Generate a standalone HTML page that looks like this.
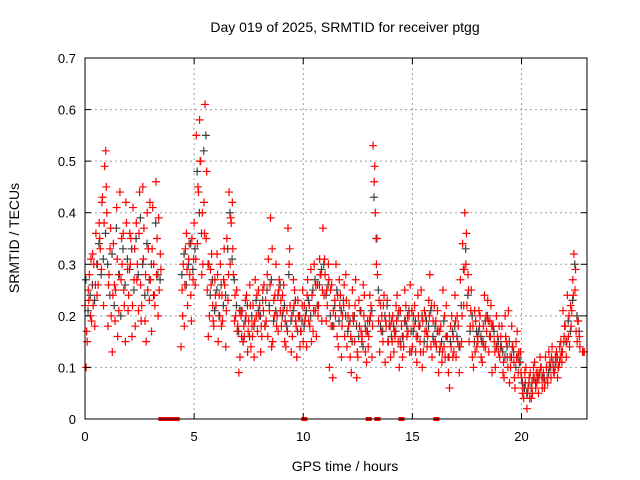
<!DOCTYPE html>
<html><head><meta charset="utf-8"><style>
body{margin:0;background:#fff}
svg{display:block;font-family:"Liberation Sans",sans-serif}
</style></head><body>
<svg id="chart" width="640" height="480" viewBox="0 0 640 480">
<rect width="640" height="480" fill="#fff"/>
<g id="grid"></g>
<g id="marks"></g>
<g id="axes"></g>
<text x="345" y="32" font-size="14" text-anchor="middle">Day 019 of 2025, SRMTID for receiver ptgg</text>
<text x="345" y="471" font-size="14" text-anchor="middle">GPS time / hours</text>
<text x="19" y="238" font-size="14" text-anchor="middle" transform="rotate(-90 19 238)">SRMTID / TECUs</text>
</svg>
<script>
const xTicks=[0,5,10,15,20];
const yTicks=[0,0.1,0.2,0.3,0.4,0.5,0.6,0.7];
const yTickLabels=["0","0.1","0.2","0.3","0.4","0.5","0.6","0.7"];
const redT=[0,.1,.2,.3,.4,.5,.6,.7,.8,.9,1,1.1,1.2,1.3,1.4,1.5,1.6,1.7,1.8,1.9,2,2.1,2.2,2.3,2.4,2.5,2.6,2.7,2.8,2.9,3,3.1,3.2,3.3,3.4,
4.4,4.5,4.6,4.7,4.8,4.9,5,5.1,5.2,5.3,5.4,5.5,5.6,5.7,5.8,5.9,6,6.1,6.2,6.3,6.4,6.5,6.6,6.7,6.8,6.9,7,7.1,7.2,7.3,7.4,7.5,7.6,7.7,7.8,7.9,
8,8.1,8.2,8.3,8.4,8.5,8.6,8.7,8.8,8.9,9,9.1,9.2,9.3,9.4,9.5,9.6,9.7,9.8,9.9,10,10.1,10.2,10.3,10.4,10.5,10.6,10.7,10.8,10.9,
11,11.1,11.2,11.3,11.4,11.5,11.6,11.7,11.8,11.9,12,12.1,12.2,12.3,12.4,12.5,12.6,12.7,12.8,12.9,13,13.1,13.2,13.3,13.4,13.5,13.6,13.7,13.8,13.9,
14,14.1,14.2,14.3,14.4,14.5,14.6,14.7,14.8,14.9,15,15.1,15.2,15.3,15.4,15.5,15.6,15.7,15.8,15.9,16,16.1,16.2,16.3,16.4,16.5,16.6,16.7,16.8,16.9,
17,17.1,17.2,17.3,17.4,17.5,17.6,17.7,17.8,17.9,18,18.1,18.2,18.3,18.4,18.5,18.6,18.7,18.8,18.9,19,19.1,19.2,19.3,19.4,19.5,19.6,19.7,19.8,19.9,
20,20.1,20.2,20.3,20.4,20.5,20.6,20.7,20.8,20.9,21,21.1,21.2,21.3,21.4,21.5,21.6,21.7,21.8,21.9,22,22.1,22.2,22.3,22.4,22.5,22.6,22.8];
const redA=[.22,.15,.28,.19,.30,.36,.26,.33,.43,.49,.40,.28,.20,.34,.25,.16,.44,.30,.22,.38,.24,.35,.41,.18,.30,.44,.22,.37,.15,.33,.27,.41,.22,.35,.25,
.14,.30,.33,.22,.28,.35,.38,.55,.44,.50,.30,.61,.25,.20,.32,.18,.22,.15,.30,.19,.26,.35,.44,.38,.28,.20,.18,.12,.21,.16,.24,.19,.14,.22,.27,.17,
.22,.16,.26,.19,.31,.39,.15,.24,.20,.27,.18,.26,.14,.37,.22,.16,.25,.12,.20,.17,.15,.20,.27,.18,.24,.30,.16,.22,.28,.37,
.28,.22,.10,.26,.18,.30,.14,.24,.20,.16,.14,.22,.09,.19,.27,.12,.21,.16,.24,.11,.16,.22,.53,.40,.28,.13,.20,.24,.18,.15,
.12,.20,.16,.24,.10,.18,.14,.22,.17,.26,.14,.22,.11,.18,.25,.13,.20,.16,.28,.12,.22,.14,.09,.18,.25,.12,.16,.06,.20,.13,
.12,.18,.27,.34,.40,.22,.15,.25,.10,.19,.15,.20,.11,.24,.17,.13,.22,.18,.10,.16,.12,.18,.08,.15,.21,.10,.14,.06,.17,.11,
.08,.04,.10,.06,.09,.05,.11,.07,.08,.10,.09,.12,.07,.11,.14,.09,.13,.10,.15,.21,.18,.24,.14,.21,.32,.17,.19,.13];
const redB=[.10,.25,.20,.32,.18,.24,.38,.29,.22,.52,.18,.33,.13,.26,.41,.21,.27,.36,.15,.29,.36,.16,.27,.38,.21,.26,.45,.19,.40,.23,.17,.30,.46,.20,.32,
.25,.18,.36,.31,.24,.27,.26,.34,.58,.28,.42,.35,.16,.29,.22,.27,.32,.24,.18,.27,.14,.23,.30,.42,.19,.25,.09,.20,.15,.23,.13,.26,.18,.12,.20,.25,
.13,.25,.18,.28,.21,.14,.23,.30,.17,.21,.24,.15,.21,.30,.13,.27,.19,.23,.14,.22,.22,.14,.19,.29,.17,.21,.26,.31,.19,.24,
.19,.30,.25,.08,.23,.16,.27,.12,.22,.28,.20,.12,.25,.15,.08,.23,.17,.26,.13,.19,.24,.12,.46,.30,.19,.22,.15,.11,.23,.20,
.19,.13,.22,.15,.21,.12,.25,.16,.20,.13,.20,.13,.24,.15,.10,.21,.17,.23,.14,.19,.15,.21,.17,.11,.14,.22,.09,.18,.12,.24,
.20,.09,.15,.22,.30,.28,.18,.12,.21,.14,.21,.12,.18,.14,.23,.19,.09,.15,.20,.13,.16,.09,.20,.12,.07,.18,.11,.15,.09,.13,
.05,.09,.02,.08,.04,.10,.06,.09,.12,.06,.06,.10,.13,.08,.10,.12,.08,.14,.11,.16,.12,.16,.22,.27,.25,.15,.16,.13];
const redC=[.17,.23,.31,.22,.26,.30,.35,.42,.38,.45,.26,.37,.24,.19,.31,.28,.35,.25,.42,.21,.30,.22,.33,.27,.36,.19,.31,.28,.25,.42,.33,.24,.28,.39,.29,
.20,.26,.29,.34,.19,.31,.31,.45,.50,.40,.36,.48,.30,.26,.19,.24,.28,.20,.24,.33,.21,.28,.39,.33,.24,.17,.21,.16,.18,.20,.17,.22,.16,.19,.24,.20,
.18,.21,.23,.16,.26,.33,.20,.18,.25,.23,.21,.19,.17,.33,.20,.22,.18,.20,.17,.25,.19,.24,.22,.15,.21,.26,.20,.28,.25,.31,
.25,.27,.18,.21,.20,.24,.22,.18,.26,.23,.18,.16,.20,.22,.13,.18,.15,.20,.17,.14,.20,.18,.49,.35,.23,.17,.22,.19,.15,.18,
.15,.17,.19,.21,.14,.16,.19,.20,.13,.21,.18,.16,.20,.13,.19,.17,.14,.20,.22,.15,.19,.17,.14,.13,.20,.16,.12,.14,.16,.19,
.15,.14,.20,.29,.36,.25,.21,.18,.13,.16,.18,.15,.14,.20,.19,.16,.18,.13,.14,.18,.14,.11,.16,.10,.12,.14,.08,.12,.13,.09,
.06,.07,.05,.04,.07,.08,.09,.05,.10,.08,.07,.08,.10,.12,.09,.11,.10,.12,.13,.18,.15,.20,.18,.24,.29,.19,.14,.13];
const grayV=[.27,.21,.24,.26,.23,.30,.34,.28,.31,.36,.30,.24,.32,.22,.37,.28,.20,.33,.26,.31,.29,.33,.25,.35,.28,.39,.30,.24,.34,.27,.30,.24,.38,.28,.27,
.28,.32,.26,.30,.34,.29,.33,.48,.40,.36,.52,.55,.30,.24,.27,.21,.25,.20,.26,.22,.24,.33,.40,.31,.27,.22,.17,.21,.15,.19,.22,.16,.20,.18,.23,.21,
.20,.23,.18,.25,.22,.27,.19,.21,.24,.26,.20,.22,.18,.28,.19,.21,.23,.17,.20,.19,.18,.21,.23,.20,.25,.27,.22,.26,.29,.30,
.24,.26,.20,.18,.22,.25,.19,.21,.23,.20,.17,.19,.15,.20,.18,.16,.21,.14,.18,.17,.19,.21,.43,.35,.25,.18,.17,.20,.22,.18,
.16,.18,.17,.20,.15,.16,.19,.18,.21,.17,.17,.19,.16,.18,.20,.15,.19,.18,.21,.16,.18,.17,.13,.15,.19,.16,.12,.15,.17,.18,
.16,.14,.22,.29,.33,.24,.17,.20,.15,.17,.17,.16,.15,.19,.20,.16,.18,.17,.14,.15,.14,.13,.12,.14,.15,.12,.13,.10,.12,.11,
.07,.06,.05,.07,.06,.08,.07,.08,.09,.08,.08,.10,.09,.10,.11,.10,.12,.11,.13,.15,.15,.19,.17,.23,.30,.20,.17,null];
const zeroT=[3.5,3.6,3.7,3.9,4.1,4.2,10.05,13.0,13.4,14.5,16.1];

const L=85,R=587,T=58,B=419,XMAX=23,YMAX=0.7;
const xs=v=>L+(v/XMAX)*(R-L);
const ys=v=>B-(v/YMAX)*(B-T);
const NS="http://www.w3.org/2000/svg";
function mk(tag,attrs,parent){const e=document.createElementNS(NS,tag);for(const k in attrs)e.setAttribute(k,attrs[k]);parent.appendChild(e);return e;}
const grid=document.getElementById('grid'),marks=document.getElementById('marks'),axes=document.getElementById('axes');

yTicks.forEach((v,i)=>{
  if(v>0&&v<YMAX){const g=mk('line',{x1:L,x2:R,y1:ys(v),y2:ys(v),stroke:'#a0a0a0','stroke-dasharray':'2,3'},grid);
  
  }
  const t=mk('line',{x1:L,x2:L+6,y1:ys(v),y2:ys(v),stroke:'#000'},axes);
  
  
  const t2=mk('line',{x1:R,x2:R-6,y1:ys(v),y2:ys(v),stroke:'#000'},axes);
  
  
  const lb=mk('text',{x:L-9,y:ys(v)+5,'font-size':13,'text-anchor':'end'},axes);
  lb.textContent=yTickLabels[i];
  
  
});
xTicks.forEach(v=>{
  if(v>0){const g=mk('line',{x1:xs(v),x2:xs(v),y1:T,y2:B,stroke:'#a0a0a0','stroke-dasharray':'2,3'},grid);
  
  }
  const t=mk('line',{x1:xs(v),x2:xs(v),y1:B,y2:B-6,stroke:'#000'},axes);
  
  
  const t2=mk('line',{x1:xs(v),x2:xs(v),y1:T,y2:T+6,stroke:'#000'},axes);
  
  
  const lb=mk('text',{x:xs(v),y:B+22,'font-size':13,'text-anchor':'middle'},axes);
  lb.textContent=String(v);
  
  
});
const frame=mk('rect',{x:L,y:T,width:R-L,height:B-T,fill:'none',stroke:'#000'},axes);



function plus(t,v,color,name){
  const x=xs(t),y=ys(v);
  const p=mk('path',{d:`M${x-4},${y}H${x+4}M${x},${y-4}V${y+4}`,stroke:color,'stroke-width':1.2,fill:'none'},marks);
  
  
}
redT.forEach((t,i)=>{if(grayV[i]!=null)plus(t+0.04,grayV[i],'#404040','gray-point');});
redT.forEach((t,i)=>{
  plus(t,redA[i],'#ff0000','red-point');
  plus(t+0.05,redB[i],'#ff0000','red-point');
  plus(t+0.075,redC[i],'#ff0000','red-point');
});
zeroT.forEach(t=>{
  const r=mk('rect',{x:xs(t)-3,y:ys(0)-2,width:6,height:4,fill:'#ff0000'},marks);
  
  
});
</script>
</body></html>
